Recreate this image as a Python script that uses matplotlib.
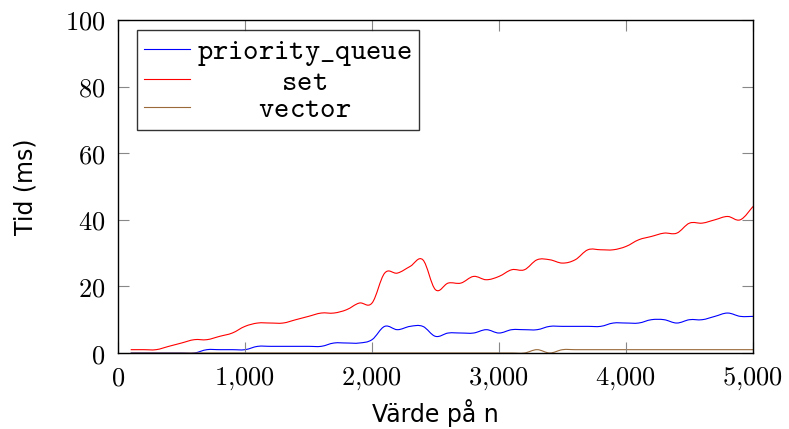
import matplotlib
matplotlib.use("Agg")
import matplotlib.pyplot as plt
from matplotlib.path import Path
from matplotlib.patches import PathPatch
from matplotlib.lines import Line2D
from matplotlib.ticker import FixedLocator, FuncFormatter

plt.rcParams['mathtext.fontset'] = 'cm'

# storlek n (steg om 100)
n = list(range(100, 5001, 100))

priority_queue = [0, 0, 0, 0, 0, 0, 1, 1, 1, 1,
                  2, 2, 2, 2, 2, 2, 3, 3, 3, 4,
                  8, 7, 8, 8, 5, 6, 6, 6, 7, 6,
                  7, 7, 7, 8, 8, 8, 8, 8, 9, 9,
                  9, 10, 10, 9, 10, 10, 11, 12, 11, 11]

set_ms = [1, 1, 1, 2, 3, 4, 4, 5, 6, 8,
          9, 9, 9, 10, 11, 12, 12, 13, 15, 15,
          24, 24, 26, 28, 19, 21, 21, 23, 22, 23,
          25, 25, 28, 28, 27, 28, 31, 31, 31, 32,
          34, 35, 36, 36, 39, 39, 40, 41, 40, 44]

vector = [0] * 32 + [1, 0] + [1] * 16

x_ticks = [0, 1000, 2000, 3000, 4000, 5000]
y_ticks = [0, 20, 40, 60, 80, 100]

# legendtexter i typewriter, centrerade (hspace i enheter av 'm'-bredd)
labels = [r'$\mathtt{priority\_queue}$',
          r'$\hspace{3.3}\mathtt{set}$',
          r'$\hspace{2.4}\mathtt{vector}$']
colors = ['#0000ff', '#ff0000', '#9a6a3a']


def smooth_path(xs, ys, t=0.18):
    # kurva genom punkterna som pgfplots "smooth"
    verts = [(xs[0], ys[0])]
    codes = [Path.MOVETO]
    k = len(xs)
    for i in range(k - 1):
        x0, y0 = xs[i], ys[i]
        x1, y1 = xs[i + 1], ys[i + 1]
        xa, ya = xs[max(i - 1, 0)], ys[max(i - 1, 0)]
        xb, yb = xs[min(i + 2, k - 1)], ys[min(i + 2, k - 1)]
        verts += [(x0 + t * (x1 - xa), y0 + t * (y1 - ya)),
                  (x1 - t * (xb - x0), y1 - t * (yb - y0)),
                  (x1, y1)]
        codes += [Path.CURVE4] * 3
    return Path(verts, codes)


fig = plt.figure(figsize=(7.89, 4.29), dpi=100)
ax = fig.add_axes([118/789, 1 - 353/429, (753-118)/789, (353-20)/429])

for ys, c in zip([priority_queue, set_ms, vector], colors):
    ax.add_patch(PathPatch(smooth_path(n, ys), fill=False, edgecolor=c, lw=0.8))

ax.set_xlim(0, 5000)
ax.set_ylim(0, 100)
ax.xaxis.set_major_locator(FixedLocator(x_ticks))
ax.yaxis.set_major_locator(FixedLocator(y_ticks))
ax.xaxis.set_major_formatter(FuncFormatter(lambda v, p: "$%s$" % f"{int(v):,}".replace(",", "{,}")))
ax.yaxis.set_major_formatter(FuncFormatter(lambda v, p: "$%d$" % int(v)))

ax.tick_params(direction='in', length=8, width=0.8, color='#888888',
               top=True, right=True, labelsize=19, pad=9)
for s in ax.spines.values():
    s.set_linewidth(1.0)
    s.set_color('black')

ax.set_xlabel("Värde på n", fontsize=17, family='DejaVu Sans', labelpad=5)
ax.set_ylabel("Tid (ms)", fontsize=17, family='DejaVu Sans', labelpad=20)

handles = [Line2D([], [], color=c, lw=0.8) for c in colors]
leg = ax.legend(handles, labels, loc='upper left', bbox_to_anchor=(19/635, 1 - 10/333),
                prop={'size': 21},
                frameon=True, fancybox=False, edgecolor='black',
                handlelength=1.55, handletextpad=0.25, labelspacing=-0.02,
                borderpad=0.25, borderaxespad=0)
leg.get_frame().set_linewidth(1.0)

fig.savefig("out.png", dpi=100)
